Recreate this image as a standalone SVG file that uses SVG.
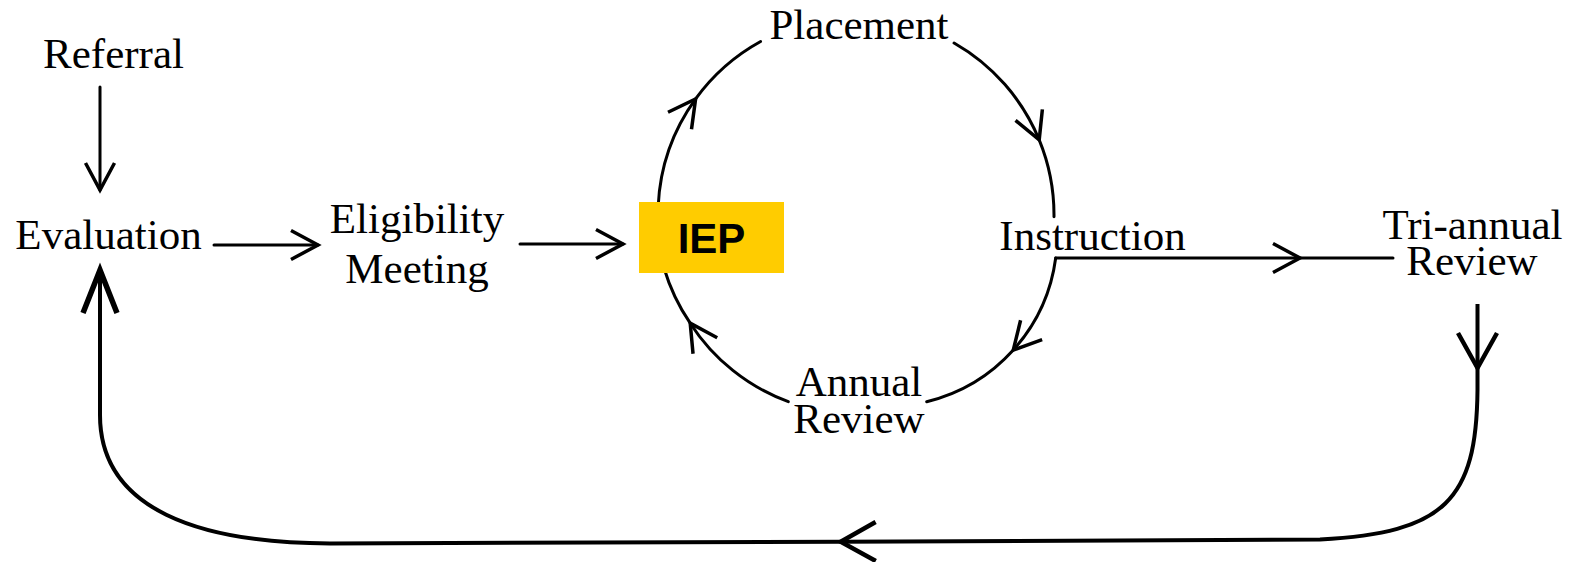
<svg xmlns="http://www.w3.org/2000/svg" width="1587" height="562" viewBox="0 0 1587 562">
  <style>
    .lbl { font-family: "Liberation Serif", "Times New Roman", serif; font-size: 43px; fill: #000; text-anchor: middle; }
    .iep { font-family: "Liberation Sans", Arial, sans-serif; font-size: 42px; font-weight: bold; fill: #000; text-anchor: middle; }
    .ln { fill: none; stroke: #000; stroke-width: 3; stroke-linecap: round; }
    .loop { fill: none; stroke: #000; stroke-width: 4; stroke-linecap: butt; }
    .head { fill: none; stroke: #000; stroke-linejoin: miter; stroke-linecap: butt; }
  </style>
  <defs>
    <marker id="ah" markerUnits="userSpaceOnUse" markerWidth="60" markerHeight="60" refX="0" refY="0" orient="auto" overflow="visible">
      <path class="head" d="M-27,-14.5 L0,0 L-27,14.5" stroke-width="3.5"/>
    </marker>
    <marker id="ahBig" markerUnits="userSpaceOnUse" markerWidth="80" markerHeight="80" refX="0" refY="0" orient="auto" overflow="visible">
      <path class="head" d="M-35,-19.5 L0,0 L-35,19.5" stroke-width="4.5"/>
    </marker>
    <marker id="ahBold" markerUnits="userSpaceOnUse" markerWidth="80" markerHeight="80" refX="0" refY="0" orient="auto" overflow="visible">
      <path class="head" d="M-43,-17 L0,0 L-43,17" stroke-width="5.5"/>
    </marker>
  </defs>

  <rect width="1587" height="562" fill="#fff"/>

  <g id="connectors">
    <!-- Referral -> Evaluation -->
    <path class="ln" d="M100,87 L100,190" marker-end="url(#ah)"/>
    <!-- Evaluation -> Eligibility Meeting -->
    <path class="ln" d="M214,245 L318,245" marker-end="url(#ah)"/>
    <!-- Eligibility Meeting -> IEP -->
    <path class="ln" d="M520,244 L623,244" marker-end="url(#ah)"/>
    <!-- IEP -> Placement -->
    <path class="ln" d="M658.2,206 A198,198 0 0 1 695.6,98.9 A198,198 0 0 1 760.6,41.5" marker-mid="url(#ah)"/>
    <!-- Placement -> Instruction -->
    <path class="ln" d="M954.1,43 A198,198 0 0 1 1039.2,139.9 A198,198 0 0 1 1054,216.7" marker-mid="url(#ah)"/>
    <!-- Instruction -> Annual Review -->
    <path class="ln" d="M1055.7,258 A171,171 0 0 1 1013.3,350 A171,171 0 0 1 926.7,401.7" marker-mid="url(#ah)"/>
    <!-- Annual Review -> IEP -->
    <path class="ln" d="M788.3,401.7 A198,198 0 0 1 690.2,323.2 A198,198 0 0 1 664,268" marker-mid="url(#ah)"/>
    <!-- Instruction -> Tri-annual Review -->
    <path class="ln" d="M1055.7,258 L1300,258 L1393,258" marker-mid="url(#ah)"/>
    <!-- Tri-annual Review -> Evaluation (loop) -->
    <path class="loop" d="M1477.5,304 L1477.5,368" marker-end="url(#ahBig)"/>
    <path class="loop" d="M1477.5,368 L1477.5,390 C1476.5,500 1445,533 1320,539.5 L840.7,541.7" marker-end="url(#ahBig)"/>
    <path class="loop" d="M840.7,541.7 L330,543.5 C200,543 100,510 100,415 L100,270" marker-end="url(#ahBold)"/>
  </g>

  <g id="node-referral">
    <text class="lbl" x="113.5" y="68">Referral</text>
  </g>
  <g id="node-evaluation">
    <text class="lbl" x="108.5" y="249">Evaluation</text>
  </g>
  <g id="node-eligibility">
    <text class="lbl" x="417" y="233">Eligibility</text>
    <text class="lbl" x="417" y="283">Meeting</text>
  </g>
  <g id="node-iep">
    <rect x="639" y="202" width="145" height="71" fill="#FFCC00"/>
    <text class="iep" x="711.5" y="253">IEP</text>
  </g>
  <g id="node-placement">
    <text class="lbl" x="859" y="39">Placement</text>
  </g>
  <g id="node-instruction">
    <text class="lbl" x="1092.5" y="250">Instruction</text>
  </g>
  <g id="node-annual-review">
    <text class="lbl" x="859" y="396">Annual</text>
    <text class="lbl" x="859" y="433">Review</text>
  </g>
  <g id="node-triannual-review">
    <text class="lbl" x="1472.5" y="239">Tri-annual</text>
    <text class="lbl" x="1472" y="275">Review</text>
  </g>
</svg>
